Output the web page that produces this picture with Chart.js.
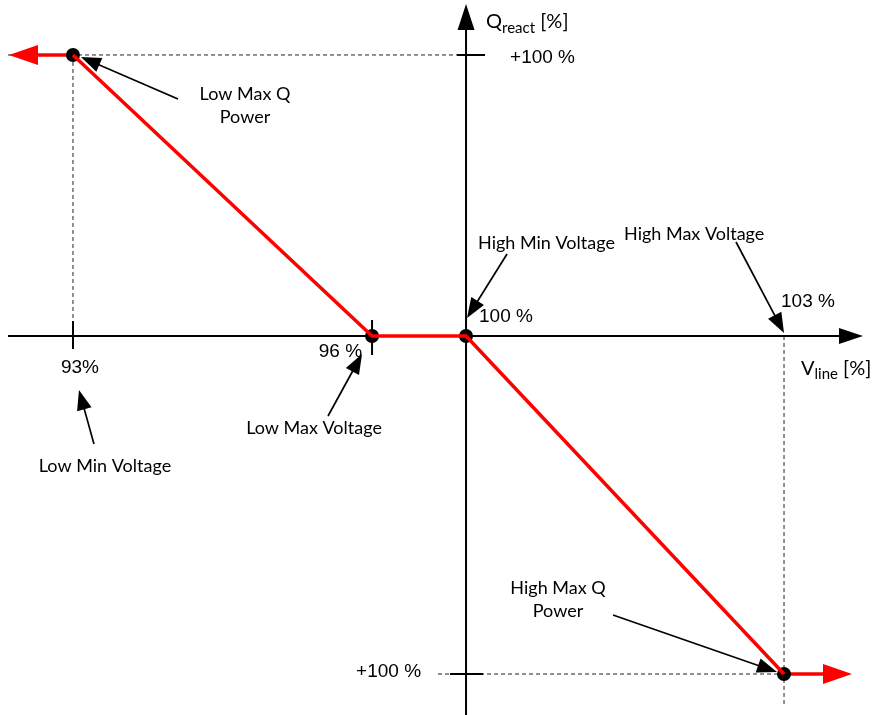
<!DOCTYPE html>
<html>
<head>
<meta charset="utf-8">
<title>Q(V) characteristic</title>
<script src="https://cdn.jsdelivr.net/npm/chart.js@4/dist/chart.umd.min.js"></script>
<style>
  html, body { margin: 0; padding: 0; background: #fff; }
  #wrap { width: 876px; height: 715px; }
</style>
</head>
<body>
<div id="wrap"><canvas id="qvChart" width="876" height="715"></canvas></div>
<script>
// Characteristic points (line voltage % -> reactive power %)
const vLine = [93, 96, 100, 103];
const qReact = [100, 0, 0, -100];

// Tick marks and their labels
const xTickValues = [93, 96, 100, 103];
const xTickLabels = ['93%', '96 %', '100 %', '103 %'];
const yTickValues = [100, -100];
const yTickLabels = ['+100 %', '+100 %'];

// Callout texts
const noteLabels = [
    ['Low Max Q', 'Power'],
    ['Low Min Voltage'],
    ['Low Max Voltage'],
    ['High Min Voltage'],
    ['High Max Voltage'],
    ['High Max Q', 'Power']
];

const LABEL_FONT = '18px Lato';
const NUM_FONT = '19px "Liberation Sans", Arial, sans-serif';

// The drawing is not to scale, so the axes use a piecewise linear mapping
class PiecewiseScale extends Chart.LinearScale {
    _frac(value) {
        const s = this.options.stops;
        let i = 1;
        while (i < s.length - 1 && value > s[i][0]) i++;
        const a = s[i - 1], b = s[i];
        return a[1] + (value - a[0]) * (b[1] - a[1]) / (b[0] - a[0]);
    }
    getPixelForValue(value) {
        const f = this._frac(value);
        return this.isHorizontal() ? this.left + f * this.width : this.bottom - f * this.height;
    }
    getValueForPixel(pixel) {
        const f = this.isHorizontal() ? (pixel - this.left) / this.width : (this.bottom - pixel) / this.height;
        const s = this.options.stops;
        let i = 1;
        while (i < s.length - 1 && f > s[i][1]) i++;
        const a = s[i - 1], b = s[i];
        return a[0] + (f - a[1]) * (b[0] - a[0]) / (b[1] - a[1]);
    }
}
PiecewiseScale.id = 'piecewise';
PiecewiseScale.defaults = {};
Chart.register(PiecewiseScale);

function arrowHead(ctx, fx, fy, tx, ty, len, half, color) {
    const ang = Math.atan2(ty - fy, tx - fx);
    const bx = tx - Math.cos(ang) * len, by = ty - Math.sin(ang) * len;
    const nx = -Math.sin(ang) * half, ny = Math.cos(ang) * half;
    ctx.fillStyle = color;
    ctx.beginPath();
    ctx.moveTo(tx, ty);
    ctx.lineTo(bx + nx, by + ny);
    ctx.lineTo(bx - nx, by - ny);
    ctx.closePath();
    ctx.fill();
}

function line(ctx, x0, y0, x1, y1) {
    ctx.beginPath();
    ctx.moveTo(x0, y0);
    ctx.lineTo(x1, y1);
    ctx.stroke();
}

// Where each callout sits, relative to a point on the characteristic
const noteLayout = [
    { at: [93, 100], tip: [8, 2], tail: [105, 44], tx: 172, ty: 45, align: 'center' },
    { at: [93, 0], tip: [6, 54], tail: [21, 108], tx: 32, ty: 136, align: 'center' },
    { at: [96, 0], tip: [-10, 18], tail: [-44, 80], tx: -58, ty: 98, align: 'center' },
    { at: [100, 0], tip: [1, -18], tail: [41, -82], tx: 12, ty: -87, align: 'left' },
    { at: [103, 0], tip: [0, -3], tail: [-48, -94], tx: -160, ty: -96, align: 'left' },
    { at: [103, -100], tip: [-7, -2], tail: [-171, -59], tx: -226, ty: -80, align: 'center' }
];

const diagramPlugin = {
    id: 'diagram',
    beforeDatasetsDraw(chart) {
        const ctx = chart.ctx;
        const xs = chart.scales.x, ys = chart.scales.y;
        const ox = xs.getPixelForValue(100), oy = ys.getPixelForValue(0);
        const left = 8, right = 863, top = 4, bottom = 715;
        const yTop = ys.getPixelForValue(100), yBot = ys.getPixelForValue(-100);
        const x93 = xs.getPixelForValue(93), x96 = xs.getPixelForValue(96), x103 = xs.getPixelForValue(103);

        ctx.save();
        // dashed helper lines
        ctx.strokeStyle = '#222';
        ctx.lineWidth = 1;
        ctx.setLineDash([4, 3]);
        line(ctx, left, yTop, ox - 9, yTop);
        line(ctx, ox - 28, yBot, x103, yBot);
        line(ctx, x93, yTop, x93, oy);
        line(ctx, x103, oy, x103, 706);
        ctx.setLineDash([]);

        // axes with arrow heads
        ctx.strokeStyle = '#000';
        ctx.lineWidth = 2;
        line(ctx, left, oy, right - 10, oy);
        arrowHead(ctx, left, oy, right, oy, 24, 8, '#000');
        line(ctx, ox, bottom, ox, top + 10);
        arrowHead(ctx, ox, bottom, ox, top, 26, 8.5, '#000');

        // tick marks
        line(ctx, x93, oy - 15, x93, oy + 13);
        line(ctx, x96, oy - 16, x96, oy + 19);
        line(ctx, ox - 9, yTop, ox + 19, yTop);
        line(ctx, ox - 16, yBot, ox + 17, yBot);

        // red tails of the characteristic
        const p0x = xs.getPixelForValue(vLine[0]), p0y = ys.getPixelForValue(qReact[0]);
        const n = vLine.length - 1;
        const p1x = xs.getPixelForValue(vLine[n]), p1y = ys.getPixelForValue(qReact[n]);
        ctx.strokeStyle = '#ff0000';
        ctx.lineWidth = 3.5;
        line(ctx, p0x, p0y, p0x - 40, p0y);
        arrowHead(ctx, p0x, p0y, p0x - 64, p0y, 29, 10, '#ff0000');
        line(ctx, p1x, p1y, p1x + 44, p1y);
        arrowHead(ctx, p1x, p1y, p1x + 68, p1y, 29, 10, '#ff0000');

        // tick labels
        ctx.fillStyle = '#000';
        ctx.font = NUM_FONT;
        ctx.textBaseline = 'alphabetic';
        const xLabelPos = [[7, 37, 'center'], [-10, 21, 'right'], [13, -14, 'left'], [-3, -29, 'left']];
        xTickValues.forEach((v, i) => {
            const p = xLabelPos[i];
            ctx.textAlign = p[2];
            ctx.fillText(xTickLabels[i], xs.getPixelForValue(v) + p[0], oy + p[1]);
        });
        const yLabelPos = [[44, 8, 'left'], [-45, 3, 'right']];
        yTickValues.forEach((v, i) => {
            const p = yLabelPos[i];
            ctx.textAlign = p[2];
            ctx.fillText(yTickLabels[i], ox + p[0], ys.getPixelForValue(v) + p[1]);
        });

        // axis titles with subscripts
        ctx.textAlign = 'left';
        let tx = ox + 20;
        ctx.font = '20px Lato';
        ctx.fillText('Q', tx, 28);
        tx += ctx.measureText('Q').width;
        ctx.font = '15px Lato';
        ctx.fillText('react', tx, 33);
        tx += ctx.measureText('react').width;
        ctx.font = '20px Lato';
        ctx.fillText(' [%]', tx, 28);

        tx = x103 + 17;
        ctx.fillText('V', tx, oy + 39);
        tx += ctx.measureText('V').width;
        ctx.font = '15px Lato';
        ctx.fillText('line', tx, oy + 43);
        tx += ctx.measureText('line').width;
        ctx.font = '20px Lato';
        ctx.fillText(' [%]', tx, oy + 39);
        ctx.restore();
    },
    afterDatasetsDraw(chart) {
        const ctx = chart.ctx;
        const xs = chart.scales.x, ys = chart.scales.y;
        ctx.save();
        ctx.strokeStyle = '#000';
        ctx.fillStyle = '#000';
        ctx.lineWidth = 1.7;
        ctx.font = LABEL_FONT;
        ctx.textBaseline = 'alphabetic';
        noteLayout.forEach((n, i) => {
            const ax = xs.getPixelForValue(n.at[0]), ay = ys.getPixelForValue(n.at[1]);
            const tipX = ax + n.tip[0], tipY = ay + n.tip[1];
            const tailX = ax + n.tail[0], tailY = ay + n.tail[1];
            const ang = Math.atan2(tipY - tailY, tipX - tailX);
            line(ctx, tailX, tailY, tipX - Math.cos(ang) * 10, tipY - Math.sin(ang) * 10);
            arrowHead(ctx, tailX, tailY, tipX, tipY, 20, 7.5, '#000');
            ctx.textAlign = n.align;
            noteLabels[i].forEach((t, k) => {
                ctx.fillText(t, ax + n.tx, ay + n.ty + k * 23);
            });
        });
        ctx.restore();
    }
};

const points = vLine.map((v, i) => ({ x: v, y: qReact[i] }));

new Chart(document.getElementById('qvChart').getContext('2d'), {
    type: 'line',
    data: {
        datasets: [{
            label: 'Q(V)',
            data: points,
            borderColor: '#ff0000',
            borderWidth: 3.5,
            pointRadius: 0,
            tension: 0,
            order: 0
        }, {
            label: 'Breakpoints',
            data: points,
            showLine: false,
            pointRadius: 7,
            pointBackgroundColor: '#000',
            pointBorderWidth: 0,
            order: 1
        }]
    },
    options: {
        responsive: false,
        animation: false,
        layout: { padding: 0, autoPadding: false },
        scales: {
            x: {
                type: 'piecewise',
                display: false,
                stops: [[93, 0.0833], [96, 0.4247], [100, 0.5320], [103, 0.8950]]
            },
            y: {
                type: 'piecewise',
                display: false,
                stops: [[-100, 0.0573], [0, 0.5301], [100, 0.9231]]
            }
        },
        plugins: {
            legend: { display: false },
            tooltip: { enabled: false }
        }
    },
    plugins: [diagramPlugin]
});
</script>
</body>
</html>
